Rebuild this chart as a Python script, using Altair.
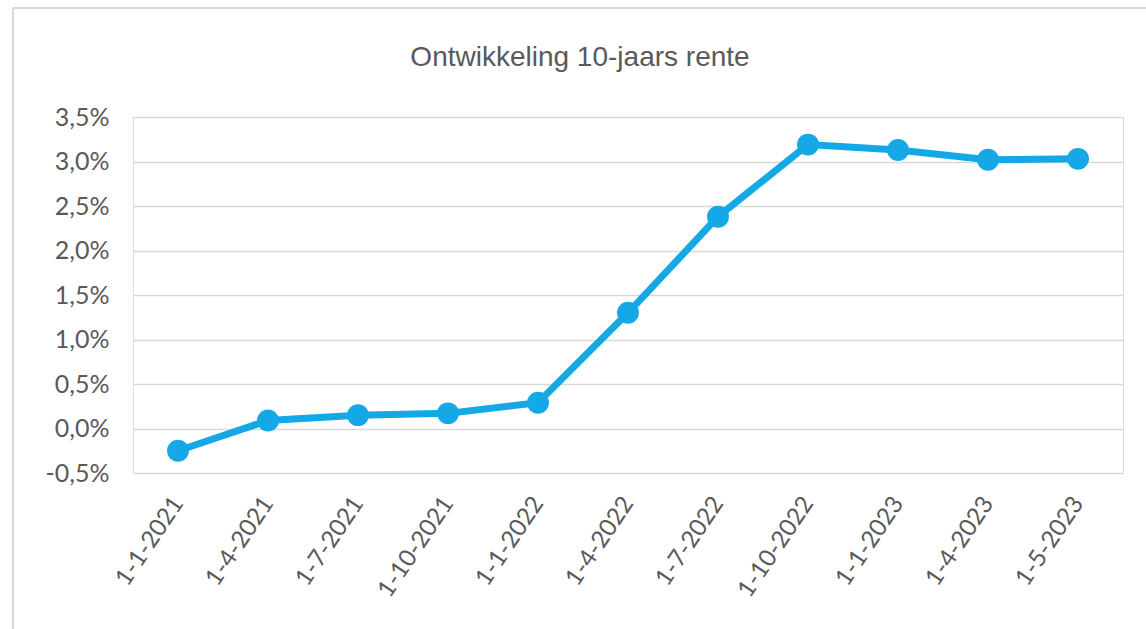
import altair as alt
import pandas as pd

dates = ["1-1-2021", "1-4-2021", "1-7-2021", "1-10-2021", "1-1-2022", "1-4-2022",
         "1-7-2022", "1-10-2022", "1-1-2023", "1-4-2023", "1-5-2023"]
rente = [-0.25, 0.09, 0.15, 0.17, 0.29, 1.30, 2.38, 3.19, 3.13, 3.02, 3.03]
y_ticks = [-0.5, 0.0, 0.5, 1.0, 1.5, 2.0, 2.5, 3.0, 3.5]

df = pd.DataFrame({"datum": dates, "rente": rente})

BLUE = "#14A8E6"
GREY_TEXT = "#595959"
FONT = "Lato"

x_enc = alt.X("datum:N", sort=dates, title=None,
              scale=alt.Scale(type="point", padding=0.5),
              axis=alt.Axis(labelAngle=-56, labelAlign="right", labelBaseline="middle",
                            labelPadding=26, ticks=False, domain=False, grid=False,
                            labelFont=FONT, labelFontSize=24, labelColor=GREY_TEXT))
y_enc = alt.Y("rente:Q", title=None,
              scale=alt.Scale(domain=[-0.5, 3.5], nice=False, zero=False),
              axis=alt.Axis(values=y_ticks, ticks=False, domain=False, grid=True,
                            gridColor="#D9D9D9", gridWidth=1.5,
                            labelExpr="(datum.value < 0 ? '-' : '') + replace(format(abs(datum.value), '.1f'), '.', ',') + '%'",
                            labelPadding=24, labelFont=FONT, labelFontSize=25,
                            labelColor=GREY_TEXT))

line = alt.Chart(df).mark_line(color=BLUE, strokeWidth=7).encode(x=x_enc, y=y_enc)
points = alt.Chart(df).mark_point(filled=True, opacity=1, color=BLUE, size=480).encode(
    x=alt.X("datum:N", sort=dates), y="rente:Q")

frame_top = alt.Chart(df).mark_rule(color="#D9D9D9", strokeWidth=2).encode(
    x=alt.value(-120), x2=alt.value(1013), y=alt.value(-109))
frame_left = alt.Chart(df).mark_rule(color="#D9D9D9", strokeWidth=2).encode(
    x=alt.value(-120), y=alt.value(-109), y2=alt.value(512))

chart = alt.layer(frame_top, frame_left, line, points).properties(
    width=990, height=356,
    title=alt.TitleParams("Ontwikkeling 10-jaars rente", anchor="middle", frame="group",
                          dx=-48, offset=-87, baseline="alphabetic",
                          font="Liberation Sans", fontSize=28,
                          fontWeight="normal", color=GREY_TEXT),
    autosize=alt.AutoSizeParams(type="none"),
    padding={"left": 133, "top": 117, "right": 23, "bottom": 156},
).configure_view(stroke=None).configure(background="white")

chart.save("out.html", embed_options={"renderer": "svg", "actions": False})
